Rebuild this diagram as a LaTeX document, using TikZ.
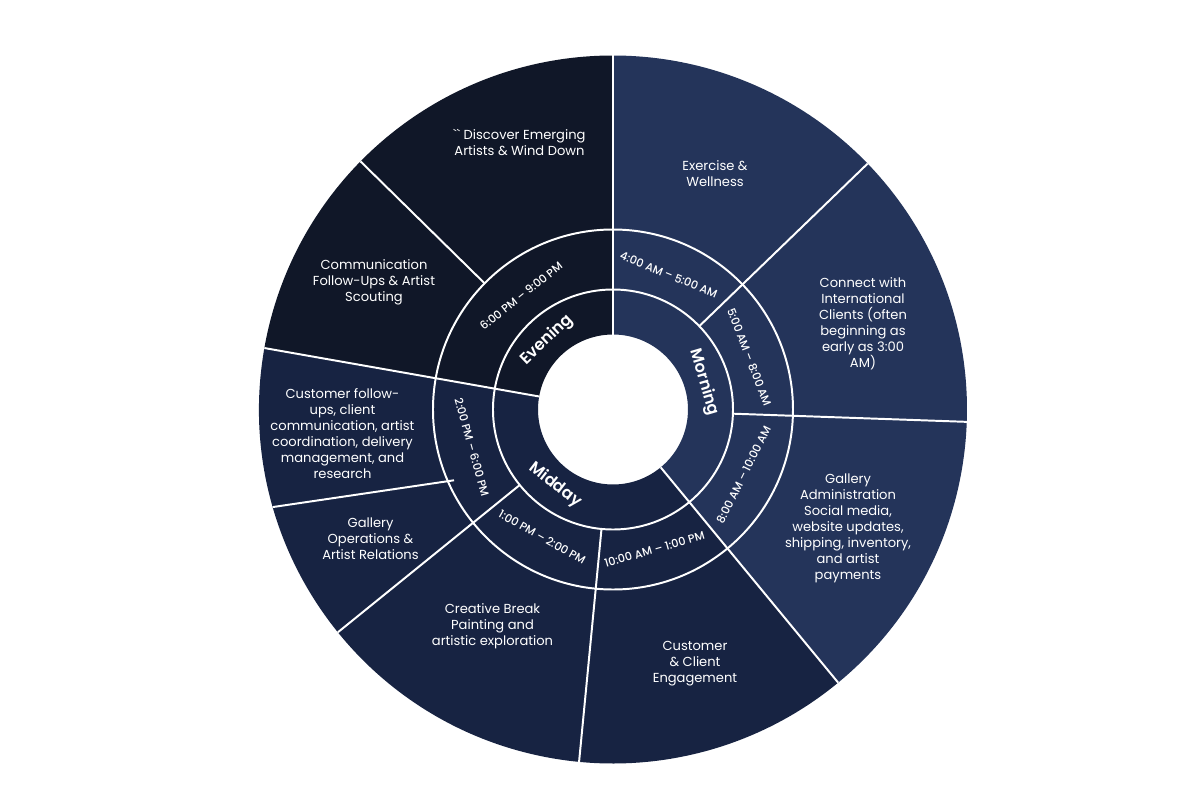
\documentclass[tikz,border=0pt]{standalone}
\usepackage{fontspec}
\setmainfont{Poppins}
\newfontfamily\popmed{Poppins Medium}
\newfontfamily\popsemi{Poppins SemiBold}
\usetikzlibrary{positioning}
\definecolor{mornblue}{RGB}{36,52,90}
\definecolor{midblue}{RGB}{23,35,66}
\definecolor{eveblue}{RGB}{16,23,40}
\newcommand{\grv}{\XeTeXglyph\XeTeXcharglyph"60\relax}

\begin{document}
\begin{tikzpicture}[x=0.25mm,y=0.25mm,
sepline/.style={white, line width=1.4pt},
partlbl/.style={text=white, inner sep=0pt, font=\popsemi\fontsize{11.5}{13}\selectfont},
timelbl/.style={text=white, inner sep=0pt, font=\popmed\fontsize{8}{9}\selectfont},
tasklbl/.style={text=white, align=center, inner sep=0pt, font=\fontsize{9.3}{11.4}\selectfont}]

\fill[white] (-613,-390.5) rectangle (587,409.5);
\useasboundingbox (-613,-390.5) rectangle (587,409.5);

% day parts
\foreach \a/\b/\col in {90/-50.5/mornblue,-50.5/-190/midblue,170/90/eveblue}
  \fill[\col] (\a:75) arc[start angle=\a,end angle=\b,radius=75] -- (\b:354) arc[start angle=\b,end angle=\a,radius=354] -- cycle;

\draw[sepline] (0,0) circle[radius=120] (0,0) circle[radius=180];

% spokes
\foreach \a/\r in {90/75,-50.5/75,170/75,44/120,-2/120,-95.5/120,219/120,135.5/180}
  \draw[sepline] (\a:\r) -- (\a:354);
\draw[sepline] (196:354) -- (204:174);

\node[partlbl, rotate=43.5] (evening) at (133.5:96) {Evening};
\node[partlbl, rotate=-73.5] (morning) at (16.5:95) {Morning};
\node[partlbl, rotate=-37.5] (midday) at (-127.5:95) {Midday};

\node[timelbl, rotate=-22.5] (t4am) at (67.5:146) {4:00 AM – 5:00 AM};
\node[timelbl, rotate=-69] (t5am) at (21:146) {5:00 AM – 8:00 AM};
\node[timelbl, rotate=63.5] (t8am) at (-26.5:146) {8:00 AM – 10:00 AM};
\node[timelbl, rotate=16] (t10am) at (-73.5:146) {10:00 AM – 1:00 PM};
\node[timelbl, rotate=-29.5] (t1pm) at (-119:146) {1:00 PM – 2:00 PM};
\node[timelbl, rotate=-74.5] (t2pm) at (195:146) {2:00 PM – 6:00 PM};
\node[timelbl, rotate=38.5] (t6pm) at (129:146) {6:00 PM – 9:00 PM};

\node[tasklbl] (discover) at (-93.5,267) {\grv\grv{} Discover Emerging\\Artists \& Wind Down};
\node[tasklbl] (exercise) at (102,235.5) {Exercise \&\\Wellness};
\node[tasklbl] (connect) at (250,86) {Connect with\\International\\Clients (often\\beginning as\\early as 3:00\\AM)};
\node[tasklbl] (admin) at (235,-119) {Gallery\\Administration\\Social media,\\website updates,\\shipping, inventory,\\and artist\\payments};
\node[tasklbl] (engage) at (82,-254.5) {Customer\\\& Client\\Engagement};
\node[tasklbl] (creative) at (-120.5,-216.5) {Creative Break\\Painting and\\artistic exploration};
\node[tasklbl] (operations) at (-242.5,-129) {Gallery\\Operations \&\\Artist Relations};
\node[tasklbl] (followup) at (-270.5,-24) {Customer follow-\\ups, client\\communication, artist\\coordination, delivery\\management, and\\research};
\node[tasklbl] (scouting) at (-239,127) {Communication\\Follow-Ups \& Artist\\Scouting};

\end{tikzpicture}
\end{document}
